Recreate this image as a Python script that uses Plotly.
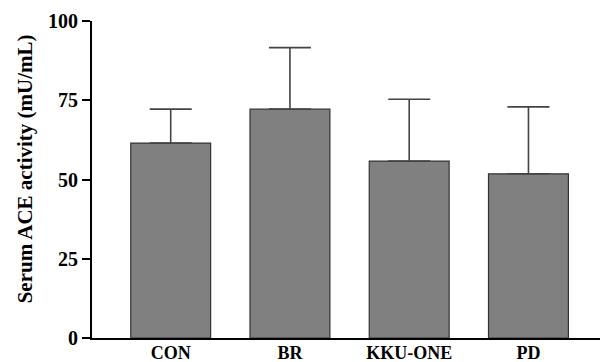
import plotly.graph_objects as go

categories = ["CON", "BR", "KKU-ONE", "PD"]
means = [61.5, 72.2, 55.8, 51.8]
sd_plus = [10.7, 19.4, 19.5, 21.1]
y_ticks = [0, 25, 50, 75, 100]
y_title = "Serum ACE activity (mU/mL)"

font_family = "Liberation Serif, Times New Roman, serif"

fig = go.Figure(
    go.Bar(
        x=list(range(len(categories))),
        y=means,
        width=0.67,
        marker=dict(color="#808080", line=dict(color="#333333", width=1.2)),
        error_y=dict(type="data", array=sd_plus, symmetric=False,
                     arrayminus=[0] * len(sd_plus),
                     color="#444444", thickness=1.6, width=21),
    )
)

fig.update_layout(
    width=600, height=362,
    margin=dict(l=92, r=0, t=21, b=24),
    plot_bgcolor="white", paper_bgcolor="white",
    showlegend=False,
    font=dict(family=font_family, color="black"),
    xaxis=dict(
        range=[-0.66, 3.6],
        tickvals=list(range(len(categories))),
        ticktext=["<b>%s</b>" % c for c in categories],
        tickfont=dict(size=18, family=font_family),
        showline=True, linecolor="black", linewidth=2,
        ticks="", ticklen=0, ticklabelstandoff=-3,
        showgrid=False, zeroline=False, automargin=False,
    ),
    yaxis=dict(
        range=[0, 100],
        tickvals=y_ticks,
        ticktext=["<b>%d</b>" % v for v in y_ticks],
        tickfont=dict(size=20, family=font_family),
        showline=True, linecolor="black", linewidth=2,
        ticks="outside", ticklen=8, tickwidth=2, tickcolor="black",
        showgrid=False, zeroline=False, automargin=False,
    ),
    annotations=[dict(
        text="<b>%s</b>" % y_title,
        xref="paper", yref="paper", x=-0.132, y=0.535,
        xanchor="center", yanchor="middle", textangle=-90,
        showarrow=False, font=dict(size=21, family=font_family),
    )],
)

fig.write_html(
    "out.html",
    config={"displayModeBar": False},
    post_script="document.body.style.margin='0';document.body.style.overflow='hidden';",
)
